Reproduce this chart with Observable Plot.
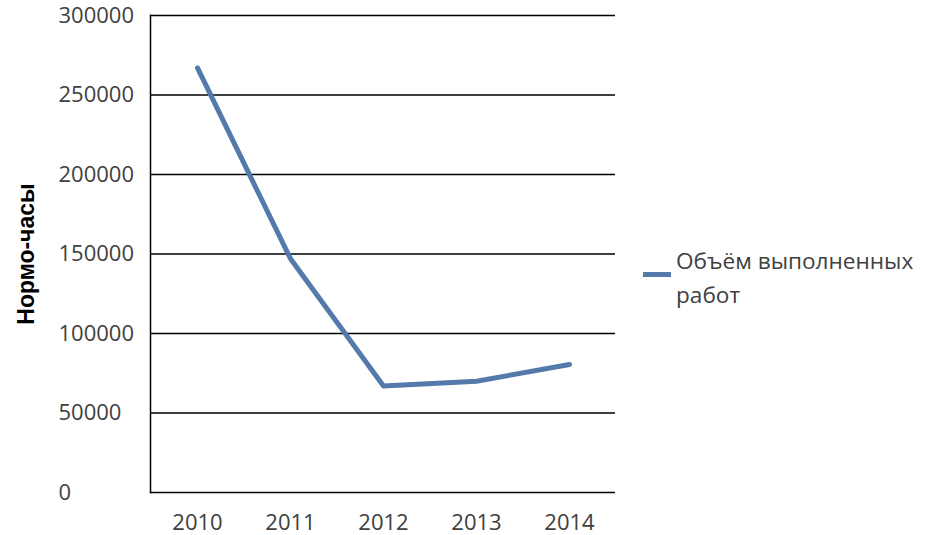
<!DOCTYPE html>
<html>
<head>
<meta charset="utf-8">
<script src="https://cdn.jsdelivr.net/npm/d3@7"></script>
<script src="https://cdn.jsdelivr.net/npm/@observablehq/plot@0.6"></script>
<style>
  html, body { margin: 0; padding: 0; background: #fff; }
  #wrap { position: relative; width: 932px; height: 535px; }
  #legend { position: absolute; left: 643px; top: 244px; display: flex; align-items: flex-start;
    font-family: "Open Sans", sans-serif; font-size: 22.6px; color: #404040; line-height: 34px; }
  #legend .sw { width: 28px; height: 5px; background: #5479ab; margin-top: 28px; margin-right: 5px; flex: none; }
</style>
</head>
<body>
<div id="wrap"><div id="legend"><div class="sw"></div><div id="ltext"></div></div></div>
<script>
const years = ["2010", "2011", "2012", "2013", "2014"];
const values = [267000, 147000, 67000, 70000, 80500];
const yTicks = [0, 50000, 100000, 150000, 200000, 250000, 300000];
const seriesName = ["Объём выполненных", "работ"];
const yTitle = "Нормо-часы";

const data = years.map((y, i) => ({year: y, value: values[i]}));

const chart = Plot.plot({
  width: 932,
  height: 535,
  marginLeft: 150,
  marginRight: 317,
  marginTop: 15,
  marginBottom: 43,
  style: {fontFamily: "'Open Sans', sans-serif", color: "#404040", background: "transparent"},
  x: {type: "point", domain: years, padding: 0.5},
  y: {domain: [0, 300000]},
  marks: [
    Plot.ruleY(yTicks, {stroke: "#000", strokeWidth: 1.5}),
    Plot.frame({anchor: "left", stroke: "#000", strokeWidth: 1.5}),
    Plot.axisY({ticks: yTicks, tickSize: 0, tickFormat: d => String(d), textAnchor: "start", dx: -83, fontSize: 22, label: null}),
    Plot.axisX({tickSize: 0, tickPadding: 22, fontSize: 22, label: null}),
    Plot.text([yTitle], {frameAnchor: "left", textAnchor: "middle", dx: -124, rotate: -90, fontWeight: "bold", fontSize: 23, fill: "#000", fontFamily: "'Liberation Sans', Arial, sans-serif"}),
    Plot.line(data, {x: "year", y: "value", stroke: "#5479ab", strokeWidth: 5, strokeLinejoin: "round"})
  ]
});
document.getElementById("wrap").prepend(chart);
chart.style.position = "absolute";
chart.style.left = "0";
chart.style.top = "0";
document.getElementById("ltext").innerHTML = seriesName.join("<br>");
</script>
</body>
</html>
